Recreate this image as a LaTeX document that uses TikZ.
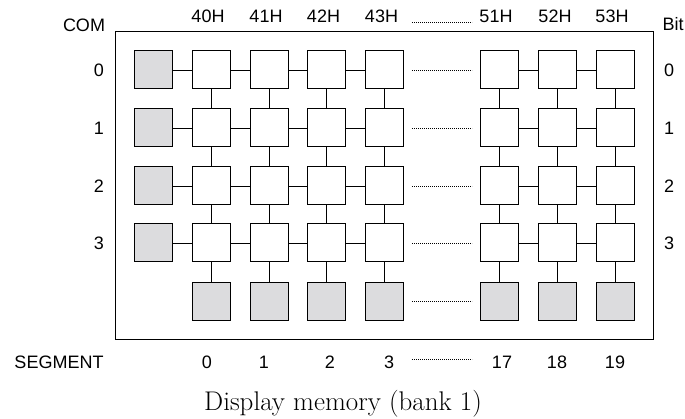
\documentclass[tikz,border=0pt]{standalone}
\usepackage{fontspec}
\setsansfont{Liberation Sans}
\usepackage{tikz}

\tikzset{
	cell/.style={rectangle,draw,line width=1pt,minimum size=38pt,inner sep=0pt,fill=white},
	graycell/.style={cell,fill=cellgray},
	wire/.style={line width=0.9pt},
	dots/.style={line width=0.7pt,dash pattern=on 0.7pt off 1.3pt},
	lbl/.style={font=\fontsize{18}{21}\selectfont\sffamily,inner sep=0pt}
}
\definecolor{cellgray}{HTML}{DCDCDE}

\begin{document}
\begin{tikzpicture}[x=1pt,y=1pt]
		\useasboundingbox (0,0) rectangle (685,418);
%		\draw[help lines,step=20] (0,0) grid (685,418);
		\path (115,79) coordinate (framelb);
		\path (653,386) coordinate (framert);
		\draw[line width=1pt] (framelb) rectangle (framert);

		% rows: COM 0..3, the segment row below
		\path (0,348) coordinate (row0);
		\path (0,290) coordinate (row1);
		\path (0,232) coordinate (row2);
		\path (0,175) coordinate (row3);
		\path (0,117) coordinate (rowseg);

		% COM drivers on the left
		\foreach \r in {0,...,3}
			\path (153.5,0 |- row\r) node(com\r) [graycell] {};

		% memory cells
		\foreach \c/\x in {40/211,41/269,42/326.5,43/384,51/499.5,52/557,53/615} {
			\foreach \r in {0,...,3}
				\path (\x,0 |- row\r) node(m\c_\r) [cell] {};
			\path (\x,0 |- rowseg) node(seg\c) [graycell] {};
		}

		% horizontal wires
		\foreach \r in {0,...,3} {
			\draw[wire] (com\r) -- (m40_\r);
			\foreach \a/\b in {40/41,41/42,42/43,51/52,52/53}
				\draw[wire] (m\a_\r) -- (m\b_\r);
		}
		% vertical wires
		\foreach \c in {40,41,42,43,51,52,53} {
			\draw[wire] (m\c_0) -- (m\c_1);
			\draw[wire] (m\c_1) -- (m\c_2);
			\draw[wire] (m\c_2) -- (m\c_3);
			\draw[wire] (m\c_3) -- (seg\c);
		}

		% gaps between 43H and 51H
		\path (412,395.5) coordinate (dothead_l);
		\path (472,395.5) coordinate (dothead_r);
		\draw[dots] (dothead_l) -- (dothead_r);
		\foreach \r in {0,...,3,seg}
			\draw[dots] (412,0 |- row\r) -- (472,0 |- row\r);
		\path (412,59) coordinate (dotbot_l);
		\path (472,59) coordinate (dotbot_r);
		\draw[dots] (dotbot_l) -- (dotbot_r);

		% addresses
		\path (84,393) node(com) [lbl] {COM};
		\path (673,394) node(bit) [lbl] {Bit};
		\foreach \c/\x in {40/208,41/266,42/323.5,43/381.5,51/496,52/555,53/612}
			\path (\x,402) node(addr\c) [lbl] {\c H};
		\foreach \r in {0,...,3} {
			\path (99,0 |- row\r) node(comnum\r) [lbl] {\r};
			\path (669,0 |- row\r) node(bitnum\r) [lbl] {\r};
		}

		% segments
		\path (59,56) node(segment) [lbl] {SEGMENT};
		\foreach \n/\x in {0/207,1/264,2/330,3/389,17/502,18/557,19/615}
			\path (\x,56) node(segnum\n) [lbl] {\n};

		\path (343,8) node(caption) [anchor=base,inner sep=0pt,font=\fontsize{27}{32}\selectfont] {Display memory (bank 1)};
	\end{tikzpicture}
\end{document}
